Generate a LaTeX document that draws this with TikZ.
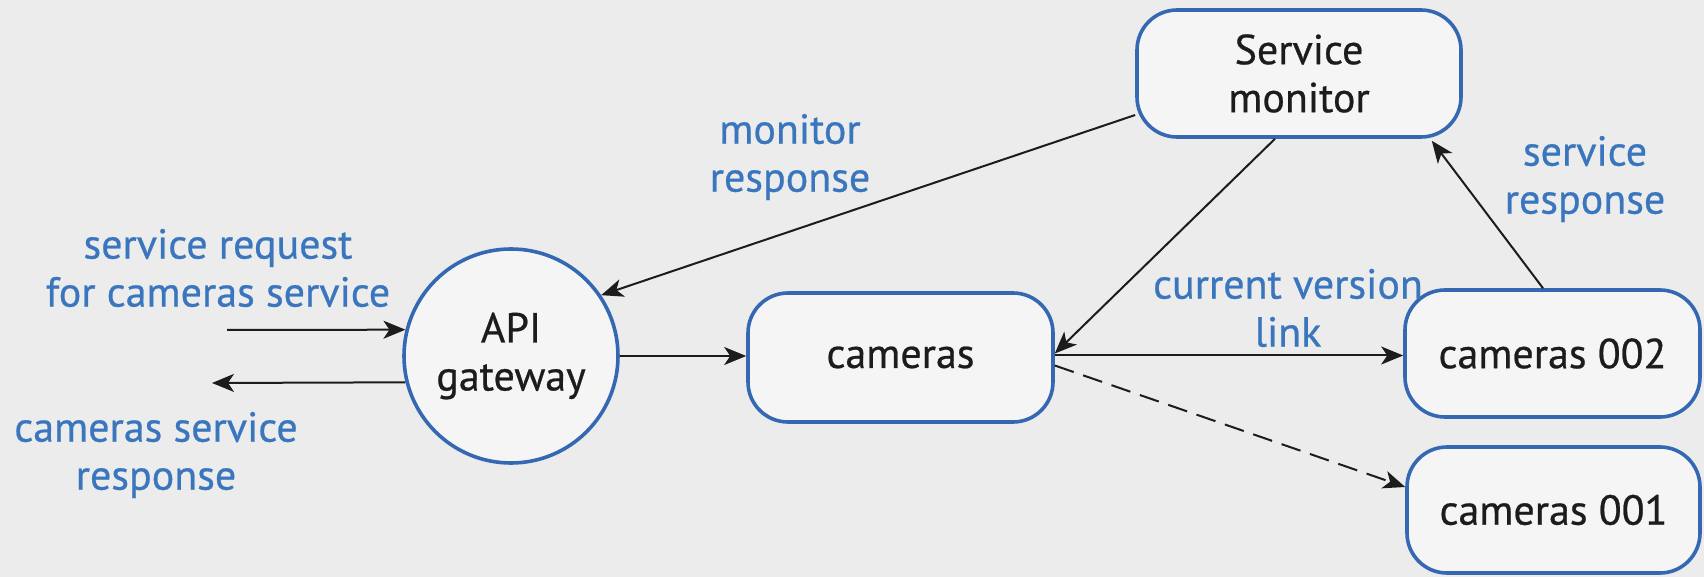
\documentclass[tikz,border=0pt]{standalone}
\usepackage{fontspec}
\setmainfont{PT Sans}[FakeBold=0.6]
\usetikzlibrary{arrows.meta,calc}
\definecolor{bg}{RGB}{236,236,236}
\definecolor{boxfill}{RGB}{245,245,246}
\definecolor{boxline}{RGB}{52,104,178}
\definecolor{lbl}{RGB}{58,118,190}
\definecolor{ink}{RGB}{28,28,28}
\begin{document}
\begin{tikzpicture}[x=0.5pt,y=-0.5pt,
  txt/.style={font=\fontsize{21}{24}\selectfont},
  box/.style={txt,draw=boxline,line width=1.8pt,fill=boxfill,rounded corners=20pt,inner sep=0pt,align=center,text=ink},
  circ/.style={txt,circle,draw=boxline,line width=1.8pt,fill=boxfill,inner sep=0pt,minimum size=107pt,align=center,text=ink},
  lab/.style={txt,text=lbl,align=center,inner sep=0pt},
  conn/.style={draw=ink,line width=1pt,-{Stealth[length=11pt,width=9pt,inset=3pt]}},
  dconn/.style={conn,dash pattern=on 10pt off 5pt},
]
\fill[bg] (0,0) rectangle (1704,577);
\useasboundingbox (0,0) rectangle (1704,577);

% nodes
\node[box,minimum width=162pt,minimum height=63.5pt] (mon) at (1299,73.5) {Service\\monitor};
\node[box,minimum width=152.5pt,minimum height=64.5pt] (cam) at (900.5,357.5) {cameras};
\node[box,minimum width=147.5pt,minimum height=63.5pt] (c2) at (1552.5,353.5) {cameras 002};
\node[box,minimum width=146.5pt,minimum height=63pt] (c1) at (1553.5,510) {cameras 001};
\node[circ] (api) at (511,356) {API\\gateway};

% labels
\node[lab] (lreq) at (218,268) {service request\\for cameras service};
\node[lab] (lresp) at (156,455) {cameras service\\response};
\node[lab] (lmon) at (790,157) {monitor\\response};
\node[lab] (lcur) at (1288,308) {current version\\link};
\node[lab] (lsrv) at (1585,179) {service\\response};

% free ends
\coordinate (inS) at (227,330);
\coordinate (outE) at (212,383);

% connectors
\draw[conn] (inS) -- (api.166);
\draw[conn] (api.194.6) -- (outE);
\draw[conn] (api.east) -- (api.east -| cam.west);
\draw[conn] ([yshift=-20.75pt]mon.west) -- (api.34);
\draw[conn] ([xshift=-12pt]mon.south) -- ([yshift=2pt]cam.east);
\draw[conn] ([yshift=1pt]cam.east) -- ([yshift=1pt]cam.east -| c2.west);
\draw[dconn] ([yshift=-4pt]cam.east) -- ([yshift=11.5pt]c1.west);
\draw[conn] ([xshift=-4.75pt]c2.north) -- ([xshift=-15.5pt,yshift=-1pt]mon.south east);
\end{tikzpicture}
\end{document}
